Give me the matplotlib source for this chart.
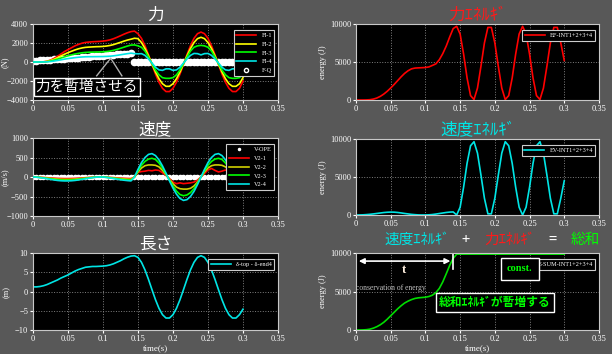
import numpy as np
import matplotlib.pyplot as plt
from matplotlib.lines import Line2D

plt.rcParams['font.family'] = ['Liberation Serif', 'DejaVu Sans']
JP = ['Noto Sans CJK JP', 'DejaVu Sans']

# time axis (s), 0.005 s steps
t = np.linspace(0, 0.3, 61)

# force (N)
F1 = [0, 0, 0, 20, 80, 200, 380, 600, 850, 1100, 1300, 1500, 1700, 1850, 1980, 2060, 2100, 2130, 2150, 2170,
      2200, 2250, 2330, 2450, 2600, 2760, 2930, 3080, 3200,
      3250, 2980, 2490, 1720, 770, -260, -1270, -2130, -2770, -3110, -3110, -2770, -2130, -1270, -260, 770,
      1720, 2490, 2980, 3150, 2980, 2490, 1720, 770, -260, -1270, -2130, -2770, -3110, -3110, -2770, -2000]
F2 = [0, 0, 0, 15, 60, 150, 280, 450, 640, 820, 980, 1130, 1270, 1390, 1480, 1540, 1570, 1590, 1610, 1620,
      1640, 1680, 1740, 1830, 1950, 2070, 2200, 2310, 2400,
      2500, 2460, 2050, 1420, 640, -210, -1050, -1760, -2290, -2560, -2560, -2290, -1760, -1050, -210, 640,
      1420, 2050, 2460, 2600, 2460, 2050, 1420, 640, -210, -1050, -1760, -2290, -2560, -2560, -2290, -1650]
F3 = [0, 0, 0, 10, 40, 100, 190, 300, 420, 540, 650, 750, 840, 910, 970, 1010, 1030, 1040, 1050, 1060,
      1070, 1100, 1150, 1230, 1330, 1440, 1560, 1680, 1780,
      1800, 1700, 1550, 1150, 520, -170, -840, -1350, -1650, -1720, -1720, -1650, -1350, -840, -170, 520,
      1150, 1550, 1700, 1750, 1700, 1550, 1150, 520, -170, -840, -1350, -1650, -1720, -1720, -1650, -1250]
F4 = [0, 0, 0, 5, 20, 50, 100, 160, 230, 300, 360, 410, 460, 500, 530, 550, 560, 560, 565, 570,
      575, 590, 610, 650, 700, 760, 820, 880, 930,
      880, 860, 880, 700, 320, -110, -550, -830, -880, -720, -720, -880, -830, -550, -110, 320,
      700, 900, 880, 750, 880, 900, 700, 320, -110, -550, -830, -880, -720, -720, -880, -700]
FQ = [100, 130, 160, 190, 210, 240, 270, 300, 330, 360, 390, 410, 440, 470, 500, 530, 560, 590, 610, 640,
      670, 700, 730, 760, 790, 810, 840, 870, 900,
      0, 0, 0, 0, 0, 0, 0, 0, 0, 0, 0, 0, 0, 0, 0, 0,
      0, 0, 0, 0, 0, 0, 0, 0, 0, 0, 0, 0, 0, 0, 0, 0]

# velocity (m/s)
V4 = [0, -5, -15, -30, -45, -60, -75, -88, -96, -100, -100, -96, -88, -75, -60, -45, -30, -15, -5, 0,
      -2, -10, -25, -40, -55, -70, -82, -92, -100,
      0, 195, 370, 500, 580, 600, 550, 440, 285, 100, -100, -285, -440, -550, -600, -580,
      -500, -370, -195, 0, 195, 370, 500, 580, 600, 550, 440, 285, 100, -100, -285, -330]
V3 = [0, -4, -12, -24, -36, -48, -60, -70, -77, -80, -80, -77, -70, -60, -48, -36, -24, -12, -4, 0,
      -2, -8, -20, -32, -44, -56, -66, -74, -80,
      0, 160, 300, 400, 460, 480, 450, 360, 230, 80, -80, -230, -360, -450, -480, -460,
      -400, -300, -160, 0, 160, 300, 400, 460, 480, 450, 360, 230, 80, -80, -230, -280]
V2 = [0, -3, -9, -18, -27, -36, -45, -53, -58, -60, -60, -58, -53, -45, -36, -27, -18, -9, -3, 0,
      -1, -6, -15, -24, -33, -42, -49, -55, -60,
      0, 130, 230, 290, 310, 310, 300, 260, 170, 60, -60, -170, -260, -300, -310, -310,
      -290, -230, -130, 0, 130, 230, 290, 310, 310, 300, 260, 170, 60, -60, -170, -200]
V1 = [0, -2, -6, -12, -18, -24, -30, -35, -38, -40, -40, -38, -35, -30, -24, -18, -12, -6, -2, 0,
      -1, -4, -10, -16, -22, -28, -33, -37, -40,
      0, 120, 140, 150, 170, 160, 180, 170, 110, 40, -40, -130, -170, -150, -170, -160,
      -150, -130, -80, 0, 90, 180, 220, 170, 130, 150, 180, 130, 50, -40, -120, -150]
VOPE = [0] * 61

# length (m)
L = [1.2, 1.2, 1.3, 1.5, 1.8, 2.2, 2.6, 3.0, 3.5, 3.9, 4.3, 4.8, 5.3, 5.7, 6.0, 6.3, 6.4, 6.5, 6.5, 6.55,
     6.6, 6.7, 6.9, 7.2, 7.6, 8.0, 8.5, 8.9, 9.2,
     9.30, 8.86, 7.58, 5.61, 3.15, 0.48, -2.13, -4.37, -6.02, -6.89, -6.89, -6.02, -4.37, -2.13, 0.48, 3.15,
     5.61, 7.58, 8.86, 9.30, 8.86, 7.58, 5.61, 3.15, 0.48, -2.13, -4.37, -6.02, -6.89, -6.89, -6.02, -4.6]

# energies (J)
EF = [0, 0, 0, 10, 40, 120, 260, 480, 780, 1150, 1580, 2050, 2550, 3050, 3500, 3850, 4100, 4200, 4230, 4250,
      4280, 4350, 4550, 4750, 5300, 6100, 7100, 8300, 9400,
      9700, 8680, 6040, 2900, 580, 65, 1570, 4440, 7510, 9550, 9550, 7510, 4440, 1570, 65, 580,
      2900, 6040, 8680, 9700, 8680, 6040, 2900, 580, 65, 1570, 4440, 7510, 9550, 9550, 7510, 5200]
EV = [0, 5, 20, 50, 90, 140, 200, 260, 320, 360, 380, 370, 330, 270, 200, 140, 80, 40, 10, 0,
      5, 20, 60, 120, 190, 260, 330, 380, 400,
      0, 1020, 3660, 6800, 9110, 9640, 8140, 5250, 2200, 150, 150, 2200, 5250, 8140, 9640, 9110,
      6800, 3660, 1020, 0, 1020, 3660, 6800, 9110, 9640, 8140, 5250, 2200, 150, 150, 2200, 4500]
ESUM = [0, 0, 10, 40, 110, 240, 430, 680, 1000, 1400, 1850, 2300, 2750, 3150, 3500, 3750, 3950, 4100, 4180, 4220,
        4260, 4350, 4520, 4850, 5400, 6250, 7300, 8400, 9300] + [9850] * 32

BG = '#585858'
fig = plt.figure(figsize=(6.12, 3.54), dpi=100, facecolor=BG)


def style(ax, ylim, yticks, ylabel, lx):
    ax.set_facecolor('black')
    ax.set_xlim(0, 0.35)
    ax.set_ylim(*ylim)
    ax.set_xticks([0, 0.05, 0.1, 0.15, 0.2, 0.25, 0.3, 0.35])
    ax.set_xticklabels(['0', '0.05', '0.1', '0.15', '0.2', '0.25', '0.3', '0.35'])
    ax.set_yticks(yticks)
    ax.tick_params(colors='white', labelsize=6, length=2, pad=1.5)
    ax.grid(True, color='#808080', ls=':', lw=0.7)
    for s in ax.spines.values():
        s.set_color('#c8c8c8')
        s.set_linewidth(0.8)
    ax.set_ylabel(ylabel, color='white', fontsize=6)
    ax.yaxis.set_label_coords(lx, 0.5)


def leg(ax, handles=None, **kw):
    opts = dict(loc='upper right', fontsize=4.5, facecolor='black', edgecolor='#cccccc',
                labelcolor='white', handlelength=3.2, borderpad=0.4, labelspacing=0.55,
                framealpha=1, fancybox=False, bbox_to_anchor=(0.998, 0.96))
    opts.update(kw)
    if handles is None:
        lg = ax.legend(**opts)
    else:
        lg = ax.legend(handles=handles, **opts)
    lg.get_frame().set_linewidth(0.8)
    return lg


# ---- force ----
ax1 = fig.add_axes([0.0539, 0.7175, 0.4003, 0.2147])
style(ax1, (-4000, 4000), [-4000, -2000, 0, 2000, 4000], '(N)', -0.1)
ax1.plot(t, FQ, ls='none', marker='o', ms=4.5, mfc='white', mec='white', zorder=2)
h1, = ax1.plot(t, F1, color='#ff0000', lw=1.2, label='Fl-1', zorder=3)
h2, = ax1.plot(t, F2, color='#ffff00', lw=1.2, label='Fl-2', zorder=3)
h3, = ax1.plot(t, F3, color='#00ff00', lw=1.2, label='Fl-3', zorder=3)
h4, = ax1.plot(t, F4, color='#00e5e5', lw=1.2, label='Fl-4', zorder=3)
hq = Line2D([], [], ls='none', marker='o', ms=3, mfc='none', mec='white', label='F-Q')
leg(ax1, [h1, h2, h3, h4, hq])
ax1.set_title('力', color='white', fontsize=12, family=JP, pad=3)
ax1.plot([0.091, 0.111, 0.127], [-1450, 400, -1450], color='#b0b0b0', lw=1, zorder=4)
ax1.text(0.077, -2650, '力を暫増させる', color='white', fontsize=10.5, family=JP, ha='center', va='center',
         zorder=5, bbox=dict(fc='black', ec='white', lw=1, boxstyle='square,pad=0.15'))

# ---- force energy ----
ax2 = fig.add_axes([0.5817, 0.7175, 0.397, 0.2147])
style(ax2, (0, 10000), [0, 5000, 10000], 'energy (J)', -0.12)
ax2.plot(t, EF, color='#ff0000', lw=1.2, label='EF-INT1+2+3+4')
leg(ax2)
ax2.set_title('力ｴﾈﾙｷﾞ', color='#ff1a1a', fontsize=12, family=JP, pad=3)

# ---- velocity ----
ax3 = fig.add_axes([0.0539, 0.3898, 0.4003, 0.2203])
style(ax3, (-1000, 1000), [-1000, -500, 0, 500, 1000], '(m/s)', -0.1)
ax3.plot(t, VOPE, ls='none', marker='o', ms=3, mfc='white', mec='white', label='V-OPE', zorder=2)
ax3.plot(t, V1, color='#ff0000', lw=1.2, label='V2-1', zorder=3)
ax3.plot(t, V2, color='#d0d000', lw=1.2, label='V2-2', zorder=3)
ax3.plot(t, V3, color='#00ff00', lw=1.2, label='V2-3', zorder=3)
ax3.plot(t, V4, color='#00e5e5', lw=1.2, label='V2-4', zorder=3)
leg(ax3, markerscale=0.5)
ax3.set_title('速度', color='white', fontsize=12, family=JP, pad=3)

# ---- velocity energy ----
ax4 = fig.add_axes([0.5817, 0.3927, 0.397, 0.2147])
style(ax4, (0, 10000), [0, 5000, 10000], 'energy (J)', -0.12)
ax4.plot(t, EV, color='#00e5e5', lw=1.2, label='EV-INT1+2+3+4')
leg(ax4)
ax4.set_title('速度ｴﾈﾙｷﾞ', color='#00e5e5', fontsize=12, family=JP, pad=3)

# ---- length ----
ax5 = fig.add_axes([0.0539, 0.0678, 0.4003, 0.2175])
style(ax5, (-10, 10), [-10, -5, 0, 5, 10], '(m)', -0.09)
ax5.plot(t, L, color='#00e5e5', lw=1.2, label='δ-top - δ-end4')
leg(ax5)
ax5.set_title('長さ', color='white', fontsize=12, family=JP, pad=3)
ax5.set_xlabel('time(s)', color='white', fontsize=6.5, labelpad=1)

# ---- total energy ----
ax6 = fig.add_axes([0.5817, 0.0678, 0.397, 0.2175])
style(ax6, (0, 10000), [0, 5000, 10000], 'energy (J)', -0.12)
ax6.plot(t, ESUM, color='#00dd00', lw=1.2, label='E-SUM-INT1+2+3+4')
leg(ax6)
ax6.set_xlabel('time(s)', color='white', fontsize=6.5, labelpad=1)
ax6.annotate('', xy=(0.0, 8950), xytext=(0.14, 8950),
             arrowprops=dict(arrowstyle='<|-|>', color='white', lw=1.2, mutation_scale=8))
ax6.plot([0.14, 0.14], [7900, 10000], color='white', lw=1.2)
ax6.text(0.069, 7850, 't', color='#fff0e0', fontsize=9, fontweight='bold', ha='center', va='center')
ax6.text(0.0, 5450, 'conservation of energy', color='#c0c0c0', fontsize=5.5, ha='left', va='center')
ax6.text(0.2, 3550, '総和ｴﾈﾙｷﾞが暫増する', color='#00ff00', fontsize=8.5, family=JP, fontweight='bold',
         ha='center', va='center', zorder=6,
         bbox=dict(fc='black', ec='white', lw=1, boxstyle='square,pad=0.25'))
ax6.text(0.236, 7950, 'const.', color='#00ff00', fontsize=7.5, fontweight='bold', ha='center', va='center',
         zorder=6, bbox=dict(fc='black', ec='white', lw=1, boxstyle='square,pad=0.6'))

# composite title
fig.text(0.682, 0.322, '速度ｴﾈﾙｷﾞ', color='#00e5e5', fontsize=10.5, family=JP, ha='center', va='center')
fig.text(0.760, 0.322, '+', color='white', fontsize=10.5, family=JP, ha='center', va='center')
fig.text(0.832, 0.322, '力ｴﾈﾙｷﾞ', color='#ff1a1a', fontsize=10.5, family=JP, ha='center', va='center')
fig.text(0.902, 0.322, '=', color='white', fontsize=10.5, family=JP, ha='center', va='center')
fig.text(0.956, 0.322, '総和', color='#00ff00', fontsize=10.5, family=JP, ha='center', va='center')

plt.savefig('out.png', dpi=100, facecolor=BG)
